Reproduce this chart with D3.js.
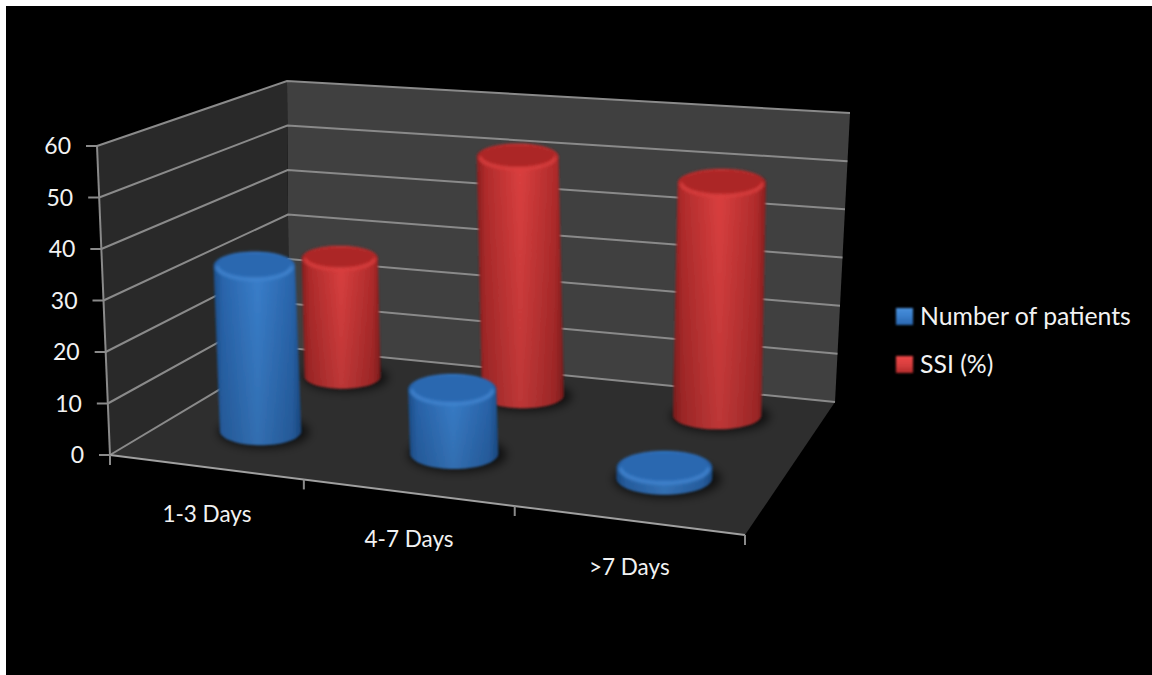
<!DOCTYPE html>
<html>
<head>
<meta charset="utf-8">
<script src="https://cdn.jsdelivr.net/npm/d3@7/dist/d3.min.js"></script>
<style>
  html, body { margin: 0; padding: 0; background: #fff; }
  svg { display: block; }
  text { font-family: Lato, "Open Sans", sans-serif; fill: #f2f2f2; }
</style>
</head>
<body>
<svg id="chart" width="1152" height="675"></svg>
<script>
// Chart data
const categories = ["1-3 Days", "4-7 Days", ">7 Days"];
const seriesNames = ["Number of patients", "SSI (%)"];
const patients = [33, 12.5, 2];
const ssi = [25.5, 50, 47.5];
const yTickValues = [0, 10, 20, 30, 40, 50, 60];

const palette = {
  "Number of patients": { dark: "#2a66ae", mid: "#3a80cd", top: "#2a68b0", rim: "#4a90dc", edge: "#1c4f8c" },
  "SSI (%)": { dark: "#b22c2c", mid: "#dc4040", top: "#ac2828", rim: "#ec4646", edge: "#8a1f1f" }
};

// Screen corners of the chart box: floor plane and the plane at the axis maximum
const floorCorners = [[110, 455], [745, 535], [835, 402], [289, 348]];
const ceilingCorners = [[97, 146], [770, 205], [850, 113], [287, 81]];

// Maps the unit square onto a quadrilateral (corners: u0d0, u1d0, u1d1, u0d1)
function quadProjection(q) {
  const [[x0, y0], [x1, y1], [x2, y2], [x3, y3]] = q;
  const dx1 = x1 - x2, dx2 = x3 - x2, sx = x0 - x1 + x2 - x3;
  const dy1 = y1 - y2, dy2 = y3 - y2, sy = y0 - y1 + y2 - y3;
  const den = dx1 * dy2 - dx2 * dy1;
  const g = (sx * dy2 - dx2 * sy) / den;
  const h = (dx1 * sy - sx * dy1) / den;
  const a = x1 - x0 + g * x1, b = x3 - x0 + h * x3, c = x0;
  const d = y1 - y0 + g * y1, e = y3 - y0 + h * y3, f = y0;
  return (u, v) => {
    const w = g * u + h * v + 1;
    return [(a * u + b * v + c) / w, (d * u + e * v + f) / w];
  };
}

const floorAt = quadProjection(floorCorners);
const ceilingAt = quadProjection(ceilingCorners);

const y = d3.scaleLinear().domain([0, 60]).range([0, 1]);
const xBand = d3.scaleBand().domain(categories).range([0, 1]);
const depthBand = d3.scaleBand().domain(seriesNames).range([0.04, 1.04]);

// Position in the box: across (u), into the depth (d), at a value
function project(u, d, value) {
  const a = floorAt(u, d), b = ceilingAt(u, d), t = y(value);
  return [a[0] + (b[0] - a[0]) * t, a[1] + (b[1] - a[1]) * t];
}

const line = d3.line();
const closed = d3.line().curve(d3.curveLinearClosed);

const svg = d3.select("#chart");
const defs = svg.append("defs");

const blur = (id, s) => defs.append("filter").attr("id", id)
  .attr("x", "-40%").attr("y", "-40%").attr("width", "180%").attr("height", "180%")
  .append("feGaussianBlur").attr("stdDeviation", s);
blur("soft", 0.8);
blur("rimBlur", 1.8);
blur("shadowBlur", 5);
blur("lineSoft", 0.5);

seriesNames.forEach((name, i) => {
  const c = palette[name];
  const g = defs.append("linearGradient").attr("id", "body" + i);
  [[0, c.edge], [0.1, c.dark], [0.5, c.mid], [0.9, c.dark], [1, c.edge]].forEach(([o, col]) =>
    g.append("stop").attr("offset", o).attr("stop-color", col));
  const k = defs.append("linearGradient").attr("id", "swatch" + i)
    .attr("x1", 0).attr("x2", 0).attr("y1", 0).attr("y2", 1);
  [[0, c.rim], [0.45, c.mid], [1, c.dark]].forEach(([o, col]) =>
    k.append("stop").attr("offset", o).attr("stop-color", col));
});
const fade = defs.append("linearGradient").attr("id", "fade")
  .attr("x1", 0).attr("x2", 0).attr("y1", 0).attr("y2", 1);
fade.append("stop").attr("offset", 0).attr("stop-color", "#000").attr("stop-opacity", 0);
fade.append("stop").attr("offset", 1).attr("stop-color", "#000").attr("stop-opacity", 0.14);

// Backdrop: white sheet with the black slide inset from the top and left
svg.append("rect").attr("width", 1152).attr("height", 675).attr("fill", "#fff");
svg.append("rect").attr("x", 6).attr("y", 6).attr("width", 1146).attr("height", 669).attr("fill", "#000");

// Box faces
const faces = svg.append("g");
faces.append("path").attr("fill", "#404040")
  .attr("d", closed([project(0, 1, 0), project(1, 1, 0), project(1, 1, 60), project(0, 1, 60)]));
faces.append("path").attr("fill", "#292929")
  .attr("d", closed([project(0, 0, 0), project(0, 1, 0), project(0, 1, 60), project(0, 0, 60)]));
faces.append("path").attr("fill", "#2e2e2e")
  .attr("d", closed([project(0, 0, 0), project(1, 0, 0), project(1, 1, 0), project(0, 1, 0)]));

// Gridlines run along the left wall and across the back wall
const axisStroke = "#8a8a8a";
svg.append("g").attr("filter", "url(#lineSoft)").selectAll("path").data(yTickValues).join("path")
  .attr("fill", "none").attr("stroke", axisStroke).attr("stroke-width", 2)
  .attr("d", v => line([project(0, 0, v), project(0, 1, v), project(1, 1, v)]));

// Axis lines and tick marks
const axes = svg.append("g").attr("fill", "none").attr("stroke", axisStroke).attr("stroke-width", 2)
  .attr("filter", "url(#lineSoft)");
axes.append("path").attr("d", line([project(0, 0, 0), project(0, 0, 60)]));
axes.append("path").attr("stroke", "#a0a0a0").attr("d", line([project(0, 0, 0), project(1, 0, 0)]));
axes.selectAll(".ytick").data(yTickValues).join("path").attr("class", "ytick")
  .attr("d", v => { const p = project(0, 0, v); return line([[p[0] - 11, p[1]], p]); });
const tickEdges = [0, ...categories.map(c => xBand(c) + xBand.bandwidth())];
axes.selectAll(".xtick").data(tickEdges).join("path").attr("class", "xtick")
  .attr("d", u => { const p = project(u, 0, 0); return line([p, [p[0], p[1] + 10]]); });

// Value labels
svg.append("g").selectAll("text").data(yTickValues).join("text")
  .attr("text-anchor", "end").attr("font-size", 23)
  .attr("x", v => project(0, 0, v)[0] - 26)
  .attr("y", v => project(0, 0, v)[1] + 8)
  .text(d => d);

// Category labels
svg.append("g").selectAll("text").data(categories).join("text")
  .attr("text-anchor", "middle").attr("font-size", 22.5)
  .attr("x", c => project(xBand(c) + xBand.bandwidth() / 2, 0, 0)[0] + 2)
  .attr("y", c => project(xBand(c) + xBand.bandwidth() / 2, 0, 0)[1] + 55)
  .text(c => c);

// Cylinder ends stay upright ellipses; their size follows the depth of the base
const radiusU = 0.073, radiusD = 0.135, uShift = 0.002;
const angles = d3.range(0, 2 * Math.PI, Math.PI / 36);
function ring(b, value, k = 1) {
  const [cx, cy] = project(b.u, b.d, value);
  const left = project(b.u - radiusU, b.d, 0), right = project(b.u + radiusU, b.d, 0);
  const near = project(b.u, b.d - radiusD, 0), far = project(b.u, b.d + radiusD, 0);
  const rx = (right[0] - left[0]) / 2 * k, ry = (near[1] - far[1]) / 2 * k * 0.9;
  return angles.map(a => [cx + Math.cos(a) * rx, cy + Math.sin(a) * ry]);
}

const bars = [];
seriesNames.forEach((name, s) => {
  const values = s === 0 ? patients : ssi;
  categories.forEach((c, i) => bars.push({ name, s, value: values[i],
    u: xBand(c) + xBand.bandwidth() / 2 + uShift,
    d: depthBand(name) + depthBand.bandwidth() / 2 }));
});
// Paint the far row first so the near cylinders overlap it
bars.sort((a, b) => b.d - a.d);

const barLayer = svg.append("g");
bars.forEach(b => {
  const c = palette[b.name];
  barLayer.append("path").attr("fill", "#000").attr("fill-opacity", 0.65)
    .attr("filter", "url(#shadowBlur)")
    .attr("transform", "translate(3,1)")
    .attr("d", closed(ring(b, 0, 1.12)));
  const g = barLayer.append("g").attr("filter", "url(#soft)");
  const hull = d3.polygonHull([...ring(b, 0), ...ring(b, b.value)]);
  g.append("path").attr("fill", `url(#body${b.s})`).attr("d", closed(hull));
  g.append("path").attr("fill", "url(#fade)").attr("d", closed(hull));
  // Top face with its lit front rim
  g.append("path").attr("fill", c.top).attr("filter", "url(#rimBlur)")
    .attr("d", closed(ring(b, b.value, 0.96)));
  const rimPts = ring(b, b.value, 0.92).filter((_, i) => i <= 36);
  g.append("path").attr("fill", "none").attr("stroke", c.rim).attr("stroke-width", 2.5)
    .attr("filter", "url(#rimBlur)").attr("d", line(rimPts));
});

// Legend
const legend = svg.append("g");
const legendY = d3.scalePoint().domain(seriesNames).range([325, 373]);
seriesNames.forEach((name, i) => {
  const yb = legendY(name);
  legend.append("rect").attr("x", 896).attr("y", yb - 17).attr("width", 17).attr("height", 17)
    .attr("fill", `url(#swatch${i})`).attr("filter", "url(#soft)");
  legend.append("text").attr("x", 920).attr("y", yb).attr("font-size", 24.8).text(name);
});
</script>
</body>
</html>
